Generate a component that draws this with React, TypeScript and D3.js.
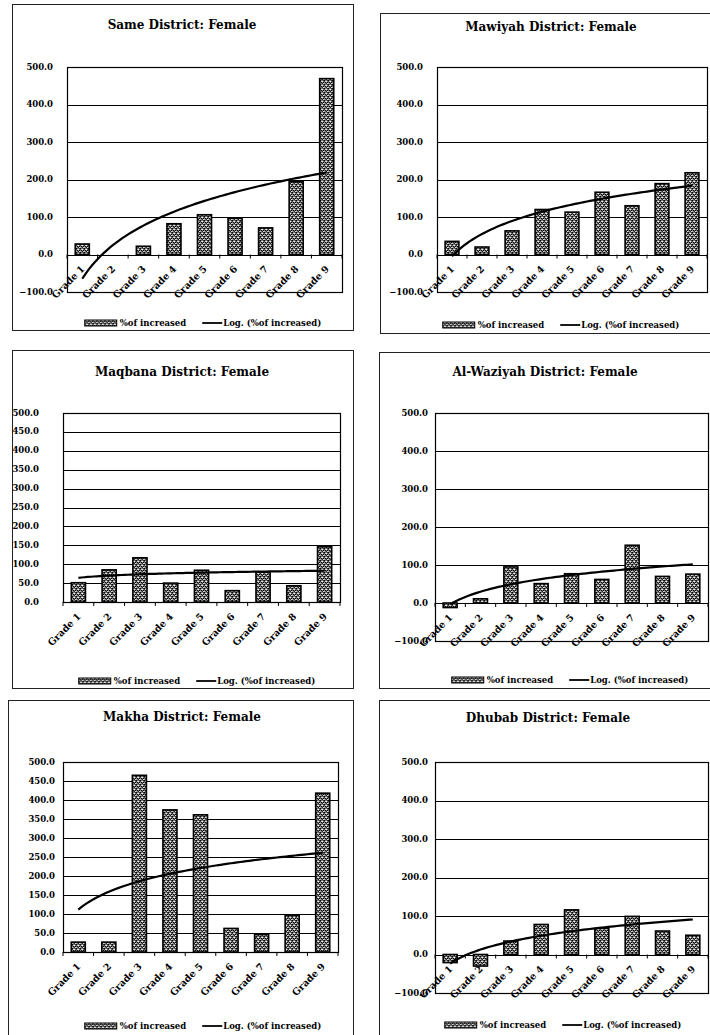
import React, { useEffect, useRef } from "react";
import * as d3 from "d3";

const grades = ["Grade 1", "Grade 2", "Grade 3", "Grade 4", "Grade 5", "Grade 6", "Grade 7", "Grade 8", "Grade 9"];

const sameValues = [28, 0, 22, 82, 106, 97, 71, 194, 469];
const mawiyahValues = [35, 20, 63, 120, 113, 166, 130, 189, 218];
const maqbanaValues = [51, 85, 117, 50, 84, 30, 79, 43, 146];
const waziyahValues = [-12, 11, 95, 51, 77, 62, 152, 70, 76];
const makhaValues = [26, 26, 465, 374, 361, 62, 46, 97, 418];
const dhubabValues = [-21, -30, 35, 78, 116, 68, 99, 61, 50];

const ticksBy100 = [-100, 0, 100, 200, 300, 400, 500];
const ticksBy50 = [0, 50, 100, 150, 200, 250, 300, 350, 400, 450, 500];

const barLegend = "%of increased";
const lineLegend = "Log. (%of increased)";

interface Panel {
  title: string;
  values: number[];
  ticks: number[];
  box: [number, number, number, number];
  left: number;
  right: number;
  top: number;
  bottom: number;
  labelGap: number;
  titleX: number;
  titleY: number;
  legendX: number;
  legendY: number;
}

const panels: Panel[] = [
  { title: "Same District: Female", values: sameValues, ticks: ticksBy100, box: [12, 4, 353, 330], left: 67, right: 342, top: 67, bottom: 292, labelGap: 14, titleX: 182, titleY: 25, legendX: 203, legendY: 323 },
  { title: "Mawiyah District: Female", values: mawiyahValues, ticks: ticksBy100, box: [380, 13, 716, 333], left: 437, right: 707, top: 67, bottom: 292, labelGap: 14, titleX: 551, titleY: 27, legendX: 561, legendY: 325 },
  { title: "Maqbana District: Female", values: maqbanaValues, ticks: ticksBy50, box: [12, 350, 353, 688], left: 63, right: 340, top: 413, bottom: 602, labelGap: 24, titleX: 182, titleY: 372, legendX: 197, legendY: 681 },
  { title: "Al-Waziyah District: Female", values: waziyahValues, ticks: ticksBy100, box: [379, 352, 716, 688], left: 435, right: 708, top: 413, bottom: 641, labelGap: 7, titleX: 545, titleY: 372, legendX: 570, legendY: 680 },
  { title: "Makha District: Female", values: makhaValues, ticks: ticksBy50, box: [8, 700, 353, 1045], left: 63, right: 338, top: 762, bottom: 952, labelGap: 8, titleX: 182, titleY: 717, legendX: 203, legendY: 1026 },
  { title: "Dhubab District: Female", values: dhubabValues, ticks: ticksBy100, box: [379, 700, 716, 1045], left: 435, right: 708, top: 762, bottom: 993, labelGap: 7, titleX: 548, titleY: 718, legendX: 563, legendY: 1025 },
];

const FONT = "'DejaVu Serif', 'Liberation Serif', serif";

// Excel style logarithmic trend: y = a*ln(x) + b, least squares
function logFit(values: number[]) {
  const xs = values.map((_, i) => Math.log(i + 1));
  const mx = d3.mean(xs)!;
  const my = d3.mean(values)!;
  let sxy = 0;
  let sxx = 0;
  xs.forEach((x, i) => {
    sxy += (x - mx) * (values[i] - my);
    sxx += (x - mx) * (x - mx);
  });
  const a = sxy / sxx;
  return { a, b: my - a * mx };
}

const App: React.FC = () => {
  const ref = useRef<SVGSVGElement | null>(null);

  useEffect(() => {
    const svg = d3.select(ref.current);
    svg.selectAll("*").remove();

    const defs = svg.append("defs");
    const pat = defs
      .append("pattern")
      .attr("id", "stipple")
      .attr("width", 4)
      .attr("height", 4)
      .attr("patternUnits", "userSpaceOnUse");
    pat.append("rect").attr("width", 4).attr("height", 4).attr("fill", "#747474");
    const dots: [number, number, string][] = [
      [0, 0, "#000"], [2, 1, "#eee"], [1, 2, "#111"], [3, 3, "#ddd"],
      [3, 0, "#333"], [0, 3, "#bbb"], [2, 3, "#222"], [1, 1, "#ccc"],
      [3, 2, "#000"], [0, 1, "#444"],
    ];
    dots.forEach(([x, y, c]) => pat.append("rect").attr("x", x).attr("y", y).attr("width", 1).attr("height", 1).attr("fill", c));

    svg.append("rect").attr("width", 710).attr("height", 1035).attr("fill", "#fff");

    panels.forEach((p) => {
      const g = svg.append("g");
      const [bx0, by0, bx1, by1] = p.box;
      g.append("rect")
        .attr("x", bx0 + 0.5)
        .attr("y", by0 + 0.5)
        .attr("width", bx1 - bx0)
        .attr("height", by1 - by0)
        .attr("fill", "#fff")
        .attr("stroke", "#222")
        .attr("stroke-width", 1);

      g.append("text")
        .attr("x", p.titleX)
        .attr("y", p.titleY)
        .attr("text-anchor", "middle")
        .attr("dominant-baseline", "middle")
        .attr("font-family", FONT)
        .attr("font-weight", "bold")
        .attr("font-size", 12)
        .text(p.title);

      const y = d3
        .scaleLinear()
        .domain([d3.min(p.ticks)!, d3.max(p.ticks)!])
        .range([p.bottom, p.top]);
      const x = d3.scaleBand<string>().domain(grades).range([p.left, p.right]).padding(0);
      const bw = x.bandwidth() * 0.46;
      const y0 = y(0);

      // gridlines
      g.selectAll(".grid")
        .data(p.ticks)
        .enter()
        .append("line")
        .attr("x1", p.left)
        .attr("x2", p.right)
        .attr("y1", (d) => Math.round(y(d)) + 0.5)
        .attr("y2", (d) => Math.round(y(d)) + 0.5)
        .attr("stroke", "#000")
        .attr("stroke-width", 1.2);

      g.append("rect")
        .attr("x", p.left + 0.5)
        .attr("y", p.top + 0.5)
        .attr("width", p.right - p.left)
        .attr("height", p.bottom - p.top)
        .attr("fill", "none")
        .attr("stroke", "#000")
        .attr("stroke-width", 1.2);

      // y tick labels
      g.selectAll(".ylab")
        .data(p.ticks)
        .enter()
        .append("text")
        .attr("x", p.left - p.labelGap)
        .attr("y", (d) => y(d))
        .attr("text-anchor", "end")
        .attr("dominant-baseline", "middle")
        .attr("font-family", FONT)
        .attr("font-weight", "bold")
        .attr("font-size", 8.5)
        .text((d) => d3.format(".1f")(d));

      // category ticks on zero axis
      g.selectAll(".xtick")
        .data(d3.range(grades.length + 1))
        .enter()
        .append("line")
        .attr("x1", (i) => p.left + i * x.step())
        .attr("x2", (i) => p.left + i * x.step())
        .attr("y1", y0)
        .attr("y2", y0 + 4)
        .attr("stroke", "#000");

      // bars
      g.selectAll(".bar")
        .data(p.values)
        .enter()
        .append("rect")
        .attr("x", (_, i) => x(grades[i])! + (x.bandwidth() - bw) / 2)
        .attr("y", (d) => Math.min(y(d), y0))
        .attr("width", bw)
        .attr("height", (d) => Math.abs(y(d) - y0))
        .attr("fill", "url(#stipple)")
        .attr("stroke", "#000")
        .attr("stroke-width", 1.6);

      // category labels
      g.selectAll(".xlab")
        .data(grades)
        .enter()
        .append("text")
        .attr("transform", (d) => `translate(${x(d)! + x.bandwidth() / 2 + 3},${y0 + 15}) rotate(-45)`)
        .attr("text-anchor", "end")
        .attr("font-family", FONT)
        .attr("font-weight", "bold")
        .attr("font-size", 9.5)
        .text((d) => d);

      // log trendline
      const { a, b } = logFit(p.values);
      const xs = d3.range(1, 9.001, 0.1);
      const cx = (v: number) => x(grades[0])! + x.bandwidth() / 2 + (v - 1) * x.step();
      const line = d3
        .line<number>()
        .x((v) => cx(v))
        .y((v) => y(a * Math.log(v) + b));
      g.append("path")
        .attr("d", line(xs))
        .attr("fill", "none")
        .attr("stroke", "#000")
        .attr("stroke-width", 2.2);

      // legend
      const lg = g.append("g");
      lg.append("rect")
        .attr("x", 0)
        .attr("y", -3)
        .attr("width", 32)
        .attr("height", 6)
        .attr("fill", "url(#stipple)")
        .attr("stroke", "#000")
        .attr("stroke-width", 1);
      const t1 = lg
        .append("text")
        .attr("x", 35)
        .attr("y", 0)
        .attr("dominant-baseline", "middle")
        .attr("font-family", FONT)
        .attr("font-weight", "bold")
        .attr("font-size", 8.5)
        .text(barLegend);
      const w1 = (t1.node() as SVGTextElement).getComputedTextLength();
      const lx = 35 + w1 + 16;
      lg.append("line")
        .attr("x1", lx)
        .attr("x2", lx + 20)
        .attr("y1", 0)
        .attr("y2", 0)
        .attr("stroke", "#000")
        .attr("stroke-width", 1.8);
      const t2 = lg
        .append("text")
        .attr("x", lx + 21)
        .attr("y", 0)
        .attr("dominant-baseline", "middle")
        .attr("font-family", FONT)
        .attr("font-weight", "bold")
        .attr("font-size", 8.5)
        .text(lineLegend);
      const total = lx + 21 + (t2.node() as SVGTextElement).getComputedTextLength();
      lg.attr("transform", `translate(${p.legendX - total / 2},${p.legendY})`);
    });
  }, []);

  return (
    <svg
      ref={ref}
      width={710}
      height={1035}
      style={{ position: "absolute", left: 0, top: 0, display: "block" }}
    ></svg>
  );
};

export default App;
